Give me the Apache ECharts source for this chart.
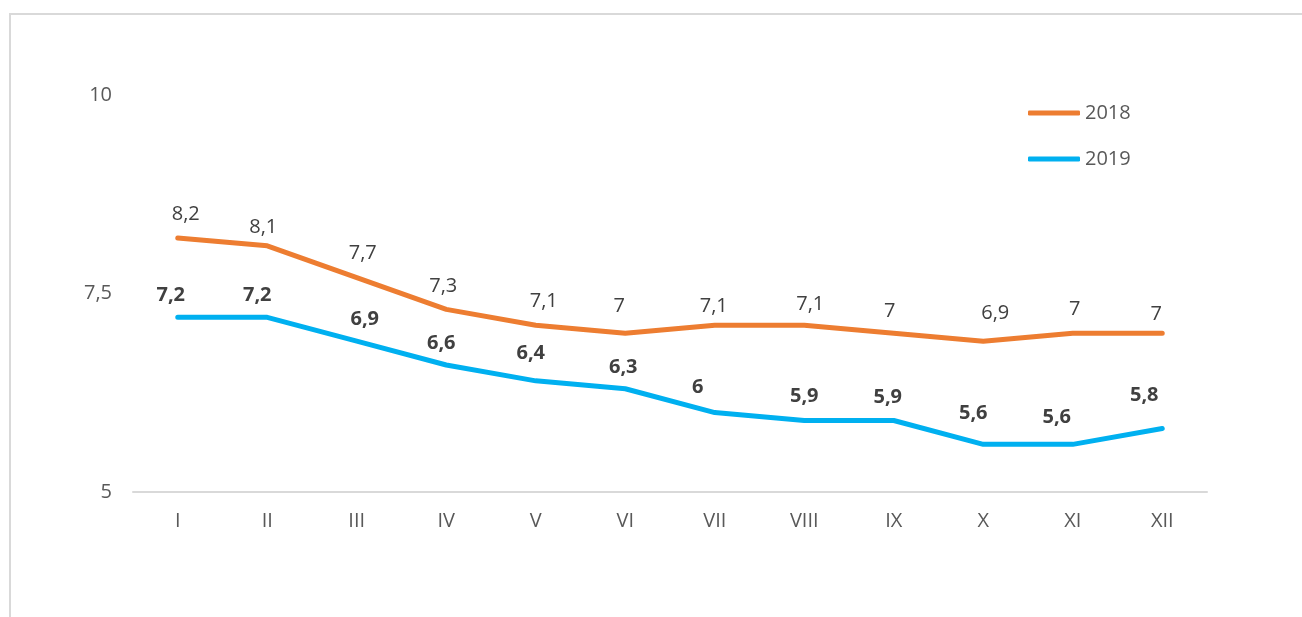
<!DOCTYPE html>
<html><head><meta charset="utf-8">
<script src="https://cdn.jsdelivr.net/npm/echarts@6/dist/echarts.min.js"></script>
<style>
html,body{margin:0;padding:0;background:#fff;overflow:hidden;}
#frame{position:absolute;left:9px;top:13px;width:1400px;height:700px;border:2px solid #d9d9d9;box-sizing:border-box;}
#chart{position:absolute;left:0;top:0;width:1302px;height:617px;}
</style></head>
<body>
<div id="frame"></div>
<div id="chart"></div>
<script>
const categories = ['I','II','III','IV','V','VI','VII','VIII','IX','X','XI','XII'];
const values2018 = [8.2, 8.1, 7.7, 7.3, 7.1, 7, 7.1, 7.1, 7, 6.9, 7, 7];
const values2019 = [7.2, 7.2, 6.9, 6.6, 6.4, 6.3, 6, 5.9, 5.9, 5.6, 5.6, 5.8];
const seriesNames = ['2018', '2019'];

// label nudges (styling only, pixels)
const labelNudge2018 = [[8,1],[-4,6],[6,1],[-3,2],[8,1],[-6,-2],[-1,6],[6,4],[-4,3],[12,-3],[2,1],[-6,6]];
const labelNudge2019 = [[-7,1],[-10,1],[8,1],[-5,1],[-5,-4],[-2,2],[-17,-2],[0,-1],[-6,0],[-10,-8],[-16,-4],[-18,-10]];

const fmt = v => String(v).replace('.', ',');
const font = '"Open Sans", "Noto Sans", sans-serif';
const withNudge = (vals, nudge) => vals.map((v, i) => ({value: v, label: {offset: nudge[i]}}));

const chart = echarts.init(document.getElementById('chart'));
chart.setOption({
  animation: false,
  textStyle: {fontFamily: font},
  grid: {left: 133, right: 95, top: 95, bottom: 125},
  legend: {
    orient: 'vertical', left: 1023, top: 98,
    itemWidth: 52, itemHeight: 5, itemGap: 26,
    icon: 'roundRect',
    textStyle: {fontSize: 20, color: '#595959', fontFamily: font},
    data: seriesNames
  },
  xAxis: {
    type: 'category', data: categories, boundaryGap: true,
    axisLine: {lineStyle: {color: '#d9d9d9', width: 2}},
    axisTick: {show: false},
    axisLabel: {fontSize: 20, color: '#595959', margin: 19, fontFamily: font}
  },
  yAxis: {
    type: 'value', min: 5, max: 10, interval: 2.5,
    splitLine: {show: false},
    axisLine: {show: false}, axisTick: {show: false},
    axisLabel: {fontSize: 20, color: '#595959', margin: 21, formatter: fmt, fontFamily: font}
  },
  series: [
    {
      name: seriesNames[0], type: 'line', data: withNudge(values2018, labelNudge2018),
      symbol: 'circle', symbolSize: 0.1, showSymbol: true,
      lineStyle: {color: '#ED7D31', width: 5, cap: 'round', join: 'round'},
      itemStyle: {color: '#ED7D31'},
      label: {show: true, position: 'top', distance: 15, fontSize: 20, color: '#404040',
              formatter: p => fmt(p.value), fontFamily: font}
    },
    {
      name: seriesNames[1], type: 'line', data: withNudge(values2019, labelNudge2019),
      symbol: 'circle', symbolSize: 0.1, showSymbol: true,
      lineStyle: {color: '#00B0F0', width: 5, cap: 'round', join: 'round'},
      itemStyle: {color: '#00B0F0'},
      label: {show: true, position: 'top', distance: 13, fontSize: 20, fontWeight: 'bold', color: '#404040',
              formatter: p => fmt(p.value), fontFamily: font}
    }
  ]
});
</script>
</body></html>
